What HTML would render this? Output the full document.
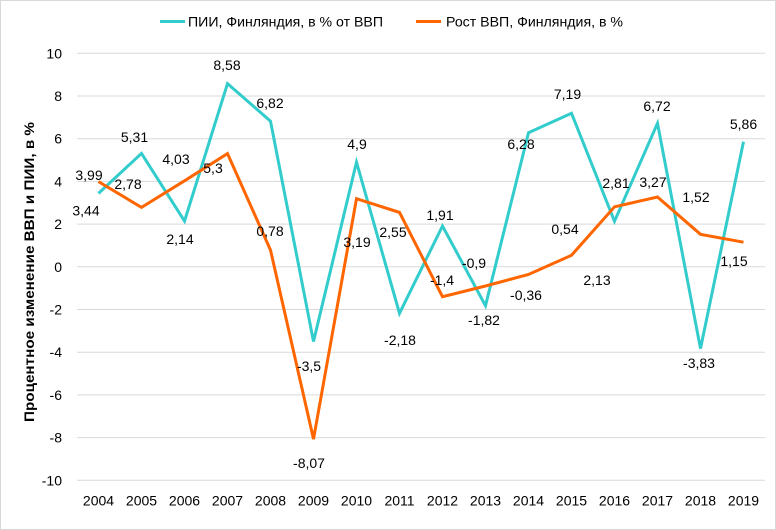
<!DOCTYPE html>
<html><head><meta charset="utf-8"><style>
html,body{margin:0;padding:0;background:#fff;}
svg{display:block;}
text{font-family:"Liberation Sans",sans-serif;fill:#000;}
</style></head><body>
<svg width="776" height="530" viewBox="0 0 776 530" xmlns="http://www.w3.org/2000/svg">
<rect x="0.5" y="0.5" width="775" height="529" fill="#fff" stroke="#d9d9d9" stroke-width="1"/>
<!-- gridlines -->
<g stroke="#d9d9d9" stroke-width="1">
<line x1="77" x2="765" y1="53.3" y2="53.3"/>
<line x1="77" x2="765" y1="96" y2="96"/>
<line x1="77" x2="765" y1="138.7" y2="138.7"/>
<line x1="77" x2="765" y1="181.4" y2="181.4"/>
<line x1="77" x2="765" y1="224.1" y2="224.1"/>
<line x1="77" x2="765" y1="266.8" y2="266.8"/>
<line x1="77" x2="765" y1="309.5" y2="309.5"/>
<line x1="77" x2="765" y1="352.2" y2="352.2"/>
<line x1="77" x2="765" y1="394.9" y2="394.9"/>
<line x1="77" x2="765" y1="437.6" y2="437.6"/>
<line x1="77" x2="765" y1="480.3" y2="480.3"/>
</g>
<!-- y tick labels -->
<g font-size="14" text-anchor="end" dominant-baseline="central">
<text x="62" y="53.3">10</text>
<text x="62" y="96">8</text>
<text x="62" y="138.7">6</text>
<text x="62" y="181.4">4</text>
<text x="62" y="224.1">2</text>
<text x="62" y="266.8">0</text>
<text x="62" y="309.5">-2</text>
<text x="62" y="352.2">-4</text>
<text x="62" y="394.9">-6</text>
<text x="62" y="437.6">-8</text>
<text x="62" y="480.3">-10</text>
</g>
<!-- x labels -->
<g font-size="14" text-anchor="middle" dominant-baseline="central">
<text x="98.5" y="500.5">2004</text>
<text x="141.5" y="500.5">2005</text>
<text x="184.5" y="500.5">2006</text>
<text x="227.5" y="500.5">2007</text>
<text x="270.5" y="500.5">2008</text>
<text x="313.5" y="500.5">2009</text>
<text x="356.5" y="500.5">2010</text>
<text x="399.5" y="500.5">2011</text>
<text x="442.5" y="500.5">2012</text>
<text x="485.5" y="500.5">2013</text>
<text x="528.5" y="500.5">2014</text>
<text x="571.5" y="500.5">2015</text>
<text x="614.5" y="500.5">2016</text>
<text x="657.5" y="500.5">2017</text>
<text x="700.5" y="500.5">2018</text>
<text x="743.5" y="500.5">2019</text>
</g>
<!-- axis title -->
<text transform="translate(29,272) rotate(-90)" font-size="14" font-weight="bold" text-anchor="middle" dominant-baseline="central" textLength="300" lengthAdjust="spacingAndGlyphs">Процентное изменение ВВП и ПИИ, в %</text>
<!-- series -->
<polyline fill="none" stroke="#33cccc" stroke-width="3" stroke-linejoin="miter" points="98.5,193.4 141.5,153.4 184.5,221.1 227.5,83.6 270.5,121.2 313.5,341.5 356.5,162.2 399.5,313.3 442.5,226.0 485.5,305.7 528.5,132.7 571.5,113.3 614.5,221.3 657.5,123.3 700.5,348.6 743.5,141.7"/>
<polyline fill="none" stroke="#ff6600" stroke-width="3" stroke-linejoin="miter" points="98.5,181.6 141.5,207.4 184.5,180.8 227.5,153.6 270.5,250.1 313.5,439.1 356.5,198.7 399.5,212.4 442.5,296.7 485.5,286.0 528.5,274.5 571.5,255.3 614.5,206.8 657.5,197.0 700.5,234.3 743.5,242.2"/>
<!-- data labels -->
<g font-size="14" text-anchor="middle" dominant-baseline="central">
<text x="89" y="175">3,99</text>
<text x="86" y="210.5">3,44</text>
<text x="134.5" y="137">5,31</text>
<text x="128" y="184">2,78</text>
<text x="176" y="159">4,03</text>
<text x="180" y="239">2,14</text>
<text x="213" y="168">5,3</text>
<text x="227" y="65">8,58</text>
<text x="270" y="103">6,82</text>
<text x="270" y="231">0,78</text>
<text x="309" y="366">-3,5</text>
<text x="309" y="463">-8,07</text>
<text x="357" y="144">4,9</text>
<text x="357" y="242">3,19</text>
<text x="393" y="232">2,55</text>
<text x="400" y="340">-2,18</text>
<text x="440" y="215">1,91</text>
<text x="442" y="280">-1,4</text>
<text x="474" y="263">-0,9</text>
<text x="484" y="320">-1,82</text>
<text x="526" y="295">-0,36</text>
<text x="521" y="144">6,28</text>
<text x="567.5" y="94">7,19</text>
<text x="565" y="229">0,54</text>
<text x="597" y="280">2,13</text>
<text x="616" y="183">2,81</text>
<text x="653" y="182">3,27</text>
<text x="657" y="106">6,72</text>
<text x="696" y="197">1,52</text>
<text x="699" y="363">-3,83</text>
<text x="743.5" y="124">5,86</text>
<text x="734" y="261">1,15</text>
</g>
<!-- legend -->
<line x1="160" x2="185" y1="21.5" y2="21.5" stroke="#33cccc" stroke-width="3"/>
<text x="188" y="21.5" font-size="14" dominant-baseline="central" textLength="195" lengthAdjust="spacingAndGlyphs">ПИИ, Финляндия, в % от ВВП</text>
<line x1="416" x2="441" y1="21.5" y2="21.5" stroke="#ff6600" stroke-width="3"/>
<text x="446" y="21.5" font-size="14" dominant-baseline="central" textLength="177" lengthAdjust="spacingAndGlyphs">Рост ВВП, Финляндия, в %</text>
</svg>
</body></html>
